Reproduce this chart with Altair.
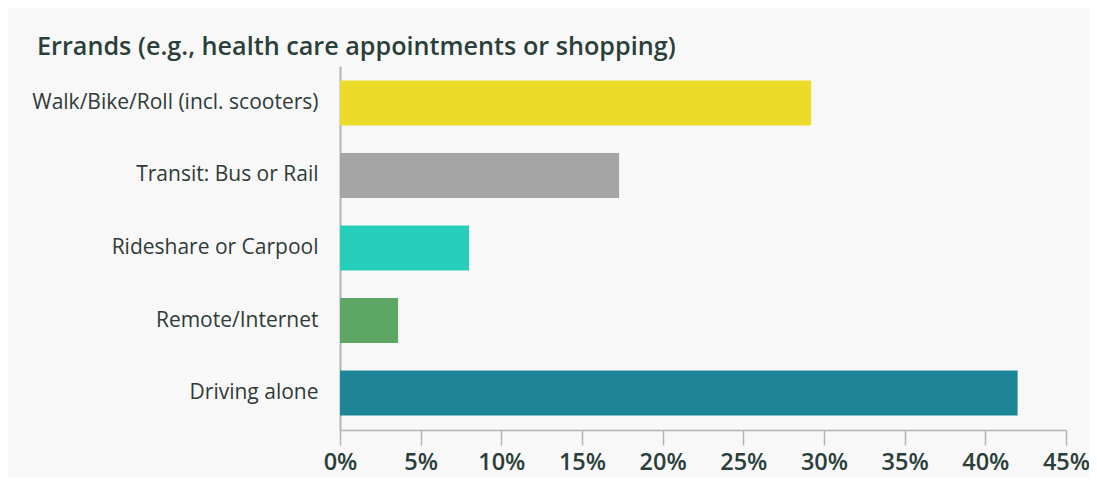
import altair as alt
import pandas as pd

categories = ["Walk/Bike/Roll (incl. scooters)", "Transit: Bus or Rail", "Rideshare or Carpool", "Remote/Internet", "Driving alone"]
values = [0.292, 0.173, 0.080, 0.036, 0.420]
colors = ["#EBDB2A", "#A5A5A5", "#26CDB8", "#5DA663", "#1E8596"]
ticks = [0, 0.05, 0.10, 0.15, 0.20, 0.25, 0.30, 0.35, 0.40, 0.45]

df = pd.DataFrame({"mode": categories, "share": values, "color": colors})

chart = alt.Chart(df).mark_bar().encode(
    y=alt.Y("mode:N", sort=categories, title=None,
            scale=alt.Scale(paddingInner=0.38, paddingOuter=0.2),
            axis=alt.Axis(domain=True, domainColor="#B4B4B4", domainWidth=2, ticks=False,
                          labelFont="Open Sans", labelFontSize=21, labelColor="#2E3B37",
                          labelPadding=22, labelLimit=400)),
    x=alt.X("share:Q", title=None,
            scale=alt.Scale(domain=[0, 0.45], nice=False),
            axis=alt.Axis(values=ticks, format=".0%", grid=False,
                          domainColor="#B4B4B4", domainWidth=1.5, tickColor="#B4B4B4",
                          tickSize=15, tickWidth=1.5, labelFont="Open Sans", labelFontSize=23.5,
                          labelFontWeight=600, labelColor="#2B3F3A", labelPadding=5,
                          labelFlush=False)),
    color=alt.Color("color:N", scale=None, legend=None),
).properties(
    width=726, height=364,
    title=alt.TitleParams("Errands (e.g., health care appointments or shopping)",
                          anchor="start", frame="group", dx=-303, offset=6, font="Open Sans",
                          fontSize=25.2, fontWeight=600, color="#2B3F3A"),
    background="#F8F8F8",
    padding={"left": 332, "top": 58, "right": 23, "bottom": 47},
    autosize=alt.AutoSizeParams(type="none"),
).configure_view(stroke=None)

chart.save("out.html", embed_options={"renderer": "svg", "actions": False})
